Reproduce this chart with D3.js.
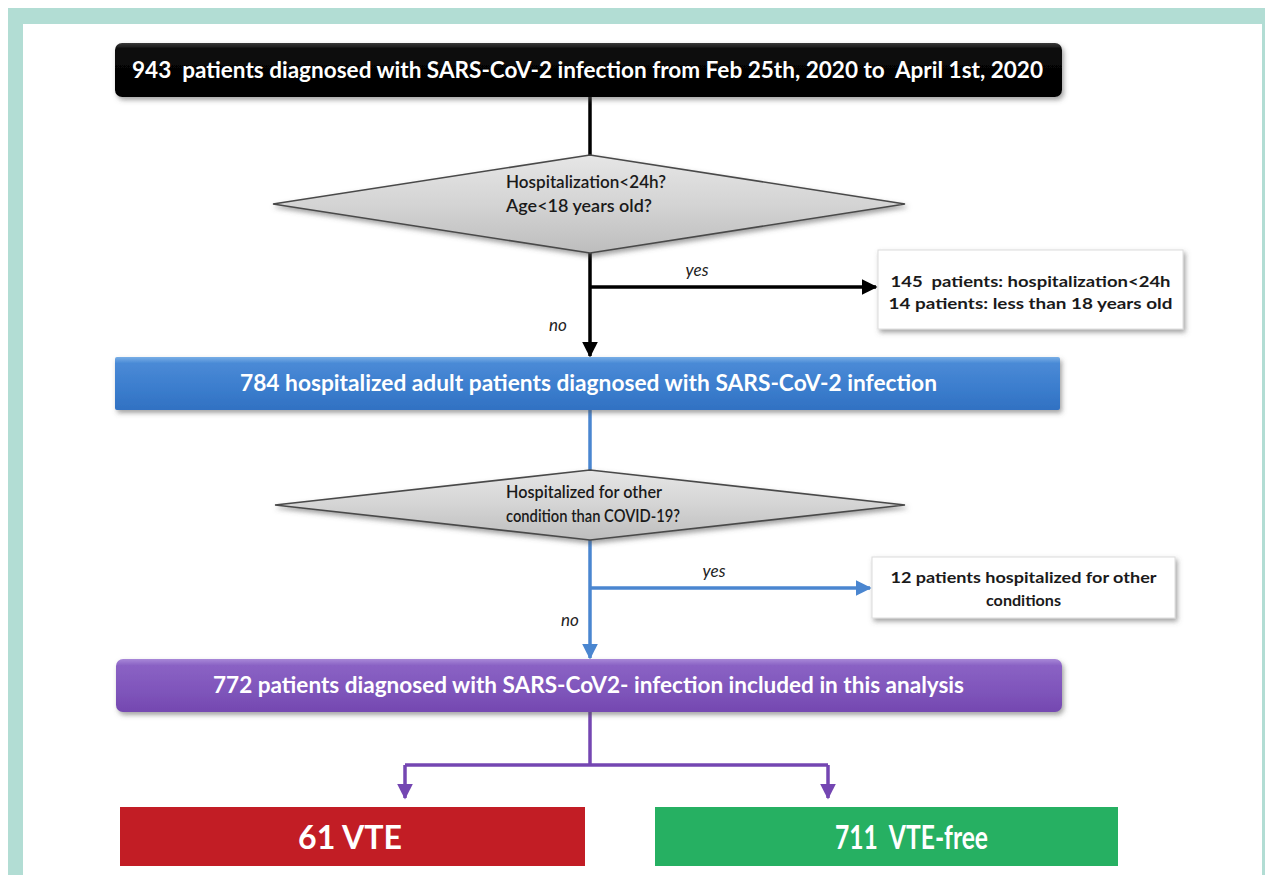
<!DOCTYPE html>
<html>
<head>
<meta charset="utf-8">
<script src="https://cdn.jsdelivr.net/npm/d3@7"></script>
<style>
  body { margin: 0; background: #fff; }
  svg { display: block; }
  text { font-family: Lato, "Open Sans", sans-serif; }
</style>
</head>
<body>
<div id="chart"></div>
<script>
// flow chart content
const mainSteps = [
  "943  patients diagnosed with SARS-CoV-2 infection from Feb 25th, 2020 to  April 1st, 2020",
  "784 hospitalized adult patients diagnosed with SARS-CoV-2 infection",
  "772 patients diagnosed with SARS-CoV2- infection included in this analysis"
];
const questions = [
  ["Hospitalization<24h?", "Age<18 years old?"],
  ["Hospitalized for other", "condition than COVID-19?"]
];
const exclusions = [
  ["145  patients: hospitalization<24h", "14 patients: less than 18 years old"],
  ["12 patients hospitalized for other", "conditions"]
];
const branchLabels = ["yes", "no"];
const outcomes = ["61 VTE", "711  VTE-free"];

// layout (pixels)
const W = 1265, H = 875;
const cx = 590;
const stepBoxes = [
  {x0: 115, x1: 1062, y0: 43, y1: 97, fill: "gBlack", textX: [132, 1043], base: 78, size: 22, rx: 7},
  {x0: 115, x1: 1060, y0: 357, y1: 410, fill: "gBlue", textX: [240, 937], base: 391, size: 22, rx: 2},
  {x0: 116, x1: 1062, y0: 659, y1: 712, fill: "gPurple", textX: [213, 964], base: 693, size: 22, rx: 7}
];
const diamonds = [
  {x0: 273, x1: 905, y0: 155, y1: 253, tx: 506, bases: [188, 212], widths: [160, 146]},
  {x0: 275, x1: 905, y0: 470, y1: 540, tx: 506, bases: [498, 522], widths: [156, 174]}
];
const sideBoxes = [
  {x0: 878, x1: 1183, y0: 250, y1: 329, bases: [287, 309], widths: [280, 284]},
  {x0: 872, x1: 1175, y0: 557, y1: 618, bases: [583, 606], widths: [266, 75]}
];
const lineColors = ["#000000", "#4a86d0"];
const branchY = [287, 588];
const branchEnd = [876, 870];
const yesPos = [[697, 276], [714, 577]];
const noPos = [[558, 331], [570, 626]];
const outBoxes = [
  {x0: 120, x1: 585, fill: "#c21d25", textX: [298, 402], ax: 405},
  {x0: 655, x1: 1118, fill: "#26b062", textX: [835, 988], ax: 828}
];

const svg = d3.select("#chart").append("svg")
  .attr("width", W)
  .attr("height", H);

const defs = svg.append("defs");

function grad(id, stops) {
  let g = defs.append("linearGradient").attr("id", id)
    .attr("x1", 0).attr("y1", 0).attr("x2", 0).attr("y2", 1);
  stops.forEach(function(s) {
    g.append("stop").attr("offset", s[0]).attr("stop-color", s[1]);
  });
}
grad("gBlack", [[0, "#3a3a3a"], [0.12, "#0a0a0a"], [1, "#000000"]]);
grad("gBlue", [[0, "#78aee6"], [0.12, "#4a8ad6"], [0.6, "#3b7dcd"], [1, "#3171c2"]]);
grad("gPurple", [[0, "#a888d8"], [0.12, "#8a62c4"], [0.6, "#7f55bb"], [1, "#7448b0"]]);
grad("gGray", [[0, "#e6e6e6"], [0.5, "#d4d4d4"], [1, "#bdbdbd"]]);

let f = defs.append("filter").attr("id", "shadow")
  .attr("x", "-5%").attr("y", "-20%").attr("width", "115%").attr("height", "160%");
f.append("feDropShadow").attr("dx", 2).attr("dy", 3)
  .attr("stdDeviation", 2.5).attr("flood-color", "#555").attr("flood-opacity", 0.55);

function marker(id, color) {
  defs.append("marker").attr("id", id)
    .attr("viewBox", "0 0 10 10").attr("refX", 9).attr("refY", 5)
    .attr("markerWidth", 4.6).attr("markerHeight", 4.6)
    .attr("markerUnits", "strokeWidth")
    .attr("orient", "auto")
    .append("path").attr("d", "M0,0 L10,5 L0,10 Z").attr("fill", color);
}
marker("arBlack", "#000");
marker("arBlue", lineColors[1]);
marker("arPurple", "#7446b2");

// teal frame
svg.append("rect").attr("x", 8).attr("y", 8).attr("width", W - 8).attr("height", H)
  .attr("fill", "#b2ddd4");
svg.append("rect").attr("x", 23).attr("y", 24).attr("width", 1262 - 23).attr("height", H)
  .attr("fill", "#ffffff");

const g = svg.append("g");

function line(pts, color, mk) {
  let p = g.append("path")
    .attr("d", d3.line()(pts))
    .attr("fill", "none")
    .attr("stroke", color)
    .attr("stroke-width", 3.5);
  if (mk) p.attr("marker-end", "url(#" + mk + ")");
  return p;
}

// connectors
line([[cx, stepBoxes[0].y1], [cx, diamonds[0].y0]], lineColors[0]);
line([[cx, diamonds[0].y1], [cx, stepBoxes[1].y0 - 1]], lineColors[0], "arBlack");
line([[cx, branchY[0]], [branchEnd[0], branchY[0]]], lineColors[0], "arBlack");
line([[cx, stepBoxes[1].y1], [cx, diamonds[1].y0]], lineColors[1]);
line([[cx, diamonds[1].y1], [cx, stepBoxes[2].y0 - 1]], lineColors[1], "arBlue");
line([[cx, branchY[1]], [branchEnd[1], branchY[1]]], lineColors[1], "arBlue");

// split to outcomes
const splitY = 765, outTop = 807, outBot = 866;
line([[cx, stepBoxes[2].y1], [cx, splitY]], "#7446b2");
line([[outBoxes[0].ax, splitY], [outBoxes[1].ax, splitY]], "#7446b2");
outBoxes.forEach(function(b) {
  line([[b.ax, splitY], [b.ax, outTop - 9]], "#7446b2", "arPurple");
});

// main step boxes
stepBoxes.forEach(function(b, i) {
  g.append("rect")
    .attr("x", b.x0).attr("y", b.y0)
    .attr("width", b.x1 - b.x0).attr("height", b.y1 - b.y0)
    .attr("rx", b.rx)
    .attr("fill", "url(#" + b.fill + ")")
    .attr("filter", "url(#shadow)");
  g.append("text")
    .attr("x", b.textX[0]).attr("y", b.base)
    .attr("textLength", b.textX[1] - b.textX[0])
    .attr("lengthAdjust", "spacingAndGlyphs")
    .attr("fill", "#fff")
    .attr("font-weight", 700)
    .attr("font-size", b.size)
    .style("white-space", "pre")
    .text(mainSteps[i]);
});

// decision diamonds
diamonds.forEach(function(d, i) {
  let my = (d.y0 + d.y1) / 2;
  g.append("path")
    .attr("d", d3.line()([[d.x0, my], [cx, d.y0], [d.x1, my], [cx, d.y1]]) + "Z")
    .attr("fill", "url(#gGray)")
    .attr("stroke", "#4a4a4a")
    .attr("stroke-width", 1.6)
    .attr("filter", "url(#shadow)");
  questions[i].forEach(function(t, j) {
    g.append("text")
      .attr("x", d.tx).attr("y", d.bases[j])
      .attr("textLength", d.widths[j])
      .attr("lengthAdjust", "spacingAndGlyphs")
      .attr("font-size", 17)
      .attr("font-weight", 600)
      .attr("fill", "#1a1a1a")
      .text(t);
  });
});

// exclusion boxes
sideBoxes.forEach(function(b, i) {
  g.append("rect")
    .attr("x", b.x0).attr("y", b.y0)
    .attr("width", b.x1 - b.x0).attr("height", b.y1 - b.y0)
    .attr("fill", "#fff")
    .attr("stroke", "#dcdcdc")
    .attr("filter", "url(#shadow)");
  exclusions[i].forEach(function(t, j) {
    g.append("text")
      .attr("x", (b.x0 + b.x1) / 2).attr("y", b.bases[j])
      .attr("text-anchor", "middle")
      .attr("textLength", b.widths[j])
      .attr("lengthAdjust", "spacingAndGlyphs")
      .attr("font-size", 16)
      .attr("font-weight", 700)
      .attr("fill", "#1a1a1a")
      .style("white-space", "pre")
      .text(t);
  });
});

// yes / no labels
yesPos.forEach(function(p) {
  g.append("text").attr("x", p[0]).attr("y", p[1])
    .attr("text-anchor", "middle").attr("font-style", "italic")
    .attr("font-size", 17).attr("fill", "#222").text(branchLabels[0]);
});
noPos.forEach(function(p) {
  g.append("text").attr("x", p[0]).attr("y", p[1])
    .attr("text-anchor", "middle").attr("font-style", "italic")
    .attr("font-size", 17).attr("fill", "#222").text(branchLabels[1]);
});

// outcome boxes
outBoxes.forEach(function(b, i) {
  g.append("rect")
    .attr("x", b.x0).attr("y", outTop)
    .attr("width", b.x1 - b.x0).attr("height", outBot - outTop)
    .attr("fill", b.fill);
  g.append("text")
    .attr("x", b.textX[0]).attr("y", 849)
    .attr("textLength", b.textX[1] - b.textX[0])
    .attr("lengthAdjust", "spacingAndGlyphs")
    .attr("font-family", "'Open Sans', sans-serif")
    .attr("font-size", 33)
    .attr("font-weight", 700)
    .attr("fill", "#fff")
    .style("white-space", "pre")
    .text(outcomes[i]);
});
</script>
</body>
</html>
